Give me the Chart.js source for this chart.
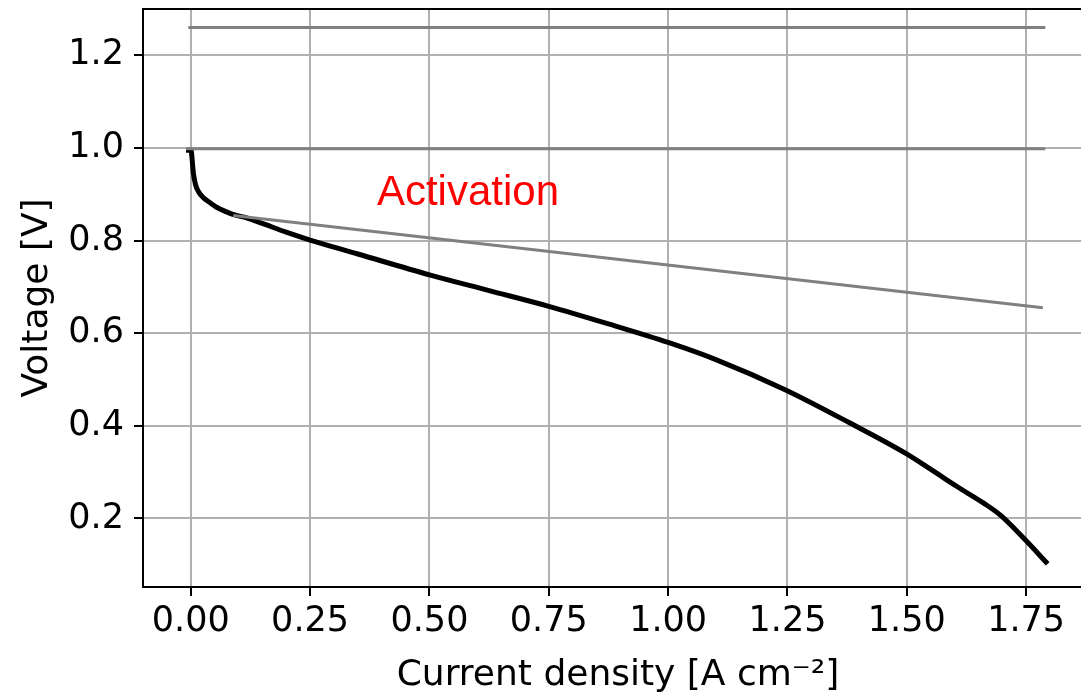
<!DOCTYPE html>
<html>
<head>
<meta charset="utf-8">
<script src="https://cdn.jsdelivr.net/npm/chart.js@4.4.1/dist/chart.umd.min.js"></script>
<style>
    html, body { margin: 0; padding: 0; background: #fff; overflow: hidden; }
    #wrap { width: 1081px; height: 697px; overflow: hidden; }
</style>
</head>
<body>
<div id="wrap"><canvas id="polCurve" width="1100" height="697"></canvas></div>
<script>
// Polarisation curve
const currentDensity = [-0.01, 0.001, 0.002, 0.0055, 0.01, 0.016, 0.026, 0.04, 0.054, 0.075, 0.09, 0.117,
    0.15, 0.2, 0.25, 0.35, 0.5, 0.625, 0.75, 0.875, 1.0, 1.1, 1.245, 1.381, 1.497, 1.556, 1.605,
    1.661, 1.696, 1.746, 1.795];
const voltage = [0.995, 0.995, 0.986, 0.946, 0.921, 0.906, 0.893, 0.882, 0.872, 0.862, 0.856, 0.849,
    0.837, 0.818, 0.801, 0.771, 0.726, 0.692, 0.658, 0.620, 0.580, 0.543, 0.478, 0.406, 0.341, 0.302, 0.269,
    0.233, 0.207, 0.156, 0.102];

// Reference lines
const topLineX = [-0.005, 1.79];
const topLineV = [1.26, 1.26];
const ocvLineX = [-0.01, 1.79];
const ocvLineV = [0.998, 0.998];
const tafelX = [0.089, 1.785];
const tafelV = [0.854, 0.655];

// Axis ticks
const xTicks = [0, 0.25, 0.5, 0.75, 1.0, 1.25, 1.5, 1.75];
const yTicks = [0.2, 0.4, 0.6, 0.8, 1.0, 1.2];

const annotation = { text: "Activation", x: 0.39, y: 0.876 };

function toPoints(xs, ys) {
    return xs.map((x, i) => ({ x: x, y: ys[i] }));
}

const grayLine = { borderColor: '#808080', borderWidth: 3, pointRadius: 0, showLine: true, fill: false };

// top spine + text label
const framePlugin = {
    id: 'frame',
    afterDraw(chart) {
        const ctx = chart.ctx;
        const area = chart.chartArea;
        ctx.save();
        ctx.strokeStyle = '#000';
        ctx.lineWidth = 2;
        ctx.beginPath();
        ctx.moveTo(area.left, area.top);
        ctx.lineTo(area.right + 10, area.top);
        ctx.stroke();

        const xs = chart.scales.x, ys = chart.scales.y;
        ctx.fillStyle = '#ff0000';
        ctx.font = '42px "Liberation Sans", Arial, sans-serif';
        ctx.textAlign = 'left';
        ctx.textBaseline = 'alphabetic';
        ctx.fillText(annotation.text, xs.getPixelForValue(annotation.x), ys.getPixelForValue(annotation.y));
        ctx.restore();
    }
};

const tickFont = { family: '"DejaVu Sans", sans-serif', size: 35 };
const titleFont = { family: '"DejaVu Sans", sans-serif', size: 36 };

new Chart(document.getElementById("polCurve").getContext("2d"), {
    type: 'scatter',
    data: {
        datasets: [
            Object.assign({ data: toPoints(topLineX, topLineV) }, grayLine),
            Object.assign({ data: toPoints(ocvLineX, ocvLineV) }, grayLine),
            Object.assign({ data: toPoints(tafelX, tafelV) }, grayLine),
            {
                data: toPoints(currentDensity, voltage),
                borderColor: '#000',
                borderWidth: 5,
                pointRadius: 0,
                showLine: true,
                fill: false,
                cubicInterpolationMode: 'monotone'
            }
        ]
    },
    options: {
        responsive: false,
        animation: false,
        layout: { padding: { left: 0, top: 9, right: 7, bottom: 0 } },
        plugins: { legend: { display: false }, tooltip: { enabled: false } },
        scales: {
            x: {
                type: 'linear',
                min: -0.1,
                max: 1.89,
                afterBuildTicks: (scale) => { scale.ticks = xTicks.map(v => ({ value: v })); },
                afterFit: (scale) => {
                    scale.height = 110;
                    scale.paddingLeft = 0;
                    scale.paddingRight = 0;
                },
                ticks: {
                    color: '#000',
                    font: tickFont,
                    padding: 5,
                    maxRotation: 0,
                    autoSkip: false,
                    callback: (v) => v.toFixed(2)
                },
                grid: { color: '#b0b0b0', lineWidth: 2, tickLength: 9, tickColor: '#000', tickWidth: 2 },
                border: { display: true, color: '#000', width: 2 },
                title: {
                    display: true,
                    text: 'Current density [A cm\u207B\u00B2]',
                    color: '#000',
                    font: titleFont,
                    padding: { top: 0, bottom: 0 }
                }
            },
            y: {
                type: 'linear',
                min: 0.052,
                max: 1.30,
                afterBuildTicks: (scale) => { scale.ticks = yTicks.map(v => ({ value: v })); },
                afterFit: (scale) => {
                    scale.width = 143;
                    scale.paddingTop = 0;
                    scale.paddingBottom = 0;
                },
                ticks: {
                    color: '#000',
                    font: tickFont,
                    padding: 10,
                    callback: (v) => v.toFixed(1)
                },
                grid: { color: '#b0b0b0', lineWidth: 2, tickLength: 9, tickColor: '#000', tickWidth: 2 },
                border: { display: true, color: '#000', width: 2 },
                title: {
                    display: true,
                    text: 'Voltage [V]',
                    color: '#000',
                    font: titleFont,
                    padding: { top: 16, bottom: 0 }
                }
            }
        }
    },
    plugins: [framePlugin]
});
</script>
</body>
</html>
